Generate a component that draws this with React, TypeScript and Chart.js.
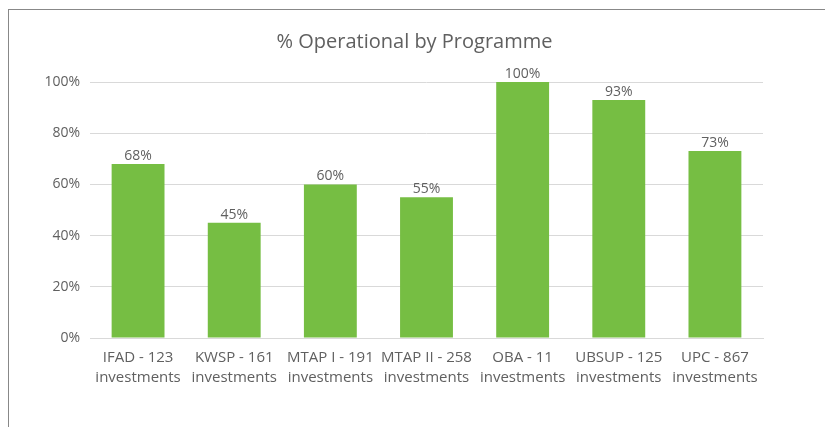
import React, { useEffect, useRef } from "react";
import { Chart, registerables } from "chart.js";

Chart.register(...registerables);

const categories: string[][] = [
  ["IFAD - 123", "investments"],
  ["KWSP - 161", "investments"],
  ["MTAP I - 191", "investments"],
  ["MTAP II - 258", "investments"],
  ["OBA - 11", "investments"],
  ["UBSUP - 125", "investments"],
  ["UPC - 867", "investments"],
];
const operationalPct: number[] = [68, 45, 60, 55, 100, 93, 73];
const yTicks: number[] = [0, 20, 40, 60, 80, 100];
const chartTitle = "% Operational by Programme";

const FONT = "'Open Sans', Lato, sans-serif";
const TEXT = "#606060";
const BAR = "#76BE43";

const dataLabels = {
  id: "dataLabels",
  afterDatasetsDraw(chart: any) {
    const ctx = chart.ctx;
    const meta = chart.getDatasetMeta(0);
    ctx.save();
    ctx.font = `14px ${FONT}`;
    ctx.fillStyle = TEXT;
    ctx.textAlign = "center";
    ctx.textBaseline = "bottom";
    meta.data.forEach((el: any, i: number) => {
      ctx.fillText(operationalPct[i] + "%", el.x, el.y - 1);
    });
    ctx.restore();
  },
};

export default function App() {
  const ref = useRef<HTMLCanvasElement | null>(null);
  useEffect(() => {
    document.body.style.overflow = "hidden";
    if (!ref.current) return;
    const chart = new Chart(ref.current, {
      type: "bar",
      data: {
        labels: categories,
        datasets: [
          {
            data: operationalPct,
            backgroundColor: BAR,
            borderWidth: 0,
            barPercentage: 0.55,
            categoryPercentage: 1,
          },
        ],
      },
      options: {
        animation: false,
        responsive: false,
        layout: { padding: { left: 57, right: 70, top: 0, bottom: 39 } },
        plugins: {
          legend: { display: false },
          tooltip: { enabled: false },
          title: {
            display: true,
            text: chartTitle,
            color: TEXT,
            font: { family: FONT, size: 20, weight: "normal" },
            padding: { top: 20, bottom: 28 },
          },
        },
        scales: {
          x: {
            grid: { display: false, drawTicks: false },
            border: { color: "#d9d9d9", width: 1 },
            ticks: {
              color: TEXT,
              font: { family: FONT, size: 15, lineHeight: 1.33 },
              padding: 10,
              maxRotation: 0,
              autoSkip: false,
            },
            afterFit(scale: any) {
              scale.height = 50;
            },
          },
          y: {
            min: 0,
            max: 100,
            afterBuildTicks(scale: any) {
              scale.ticks = yTicks.map((v) => ({ value: v }));
            },
            grid: { color: "#d9d9d9", drawTicks: false },
            border: { display: false },
            ticks: {
              color: TEXT,
              font: { family: FONT, size: 14 },
              padding: 10,
              callback: (v: any) => v + "%",
            },
            afterFit(scale: any) {
              scale.width = 24;
              scale._computeLabelArea = () => undefined;
            },
          },
        },
      },
      plugins: [dataLabels],
    });
    return () => chart.destroy();
  }, []);
  return (
    <div
      style={{
        width: 830,
        height: 425,
        marginTop: 1,
        borderLeft: "1.5px solid #888",
        borderTop: "1.5px solid #888",
        boxSizing: "border-box",
      }}
    >
      <canvas ref={ref} width={824} height={417} style={{ display: "block" }} />
    </div>
  );
}
